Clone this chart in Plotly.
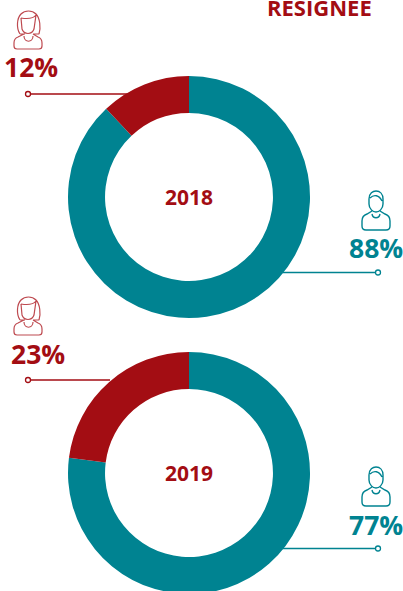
import plotly.graph_objects as go

W, H = 403, 620
years = ["2018", "2019"]
male = [88, 77]
female = [12, 23]
labels = ["Male", "Female"]
title = "RESIGNEE"
TEAL = "#008391"
RED = "#A30D13"
CY = [197, 473]
CX = 189
R = 121
FONT = "Open Sans"

def female_icon(x, y):
    d = []
    # hair
    d.append(f"M{x+6},{y+24} C{x+2},{y+18} {x+3},{y+8} {x+7},{y+4} C{x+11},{y} {x+18},{y} {x+22},{y+4} C{x+26},{y+8} {x+27},{y+18} {x+25},{y+24}")
    d.append(f"M{x+6},{y+24} L{x+11},{y+24} M{x+19},{y+24} L{x+25},{y+24}")
    # face
    d.append(f"M{x+7},{y+8} L{x+8},{y+19} C{x+10},{y+25} {x+18},{y+25} {x+20},{y+19} L{x+22},{y+5} C{x+19},{y+9} {x+13},{y+9} {x+7},{y+8}")
    # body
    d.append(f"M{x+10},{y+24} L{x+4},{y+27} C{x+1},{y+28} {x},{y+30} {x},{y+33} L{x},{y+36} C{x},{y+38} {x+1},{y+39} {x+3},{y+39} L{x+25},{y+39} C{x+27},{y+39} {x+28},{y+38} {x+28},{y+36} L{x+28},{y+33} C{x+28},{y+30} {x+27},{y+28} {x+24},{y+27} L{x+19},{y+24}")
    d.append(f"M{x+10},{y+26} C{x+10},{y+33} {x+19},{y+33} {x+19},{y+26}")
    return " ".join(d)

def male_icon(x, y):
    d = []
    # head
    d.append(f"M{x+7},{y+8} C{x+7},{y+2} {x+11},{y} {x+14},{y} C{x+18},{y} {x+21},{y+3} {x+21},{y+8} L{x+21},{y+13} C{x+21},{y+18} {x+17},{y+21} {x+14},{y+21} C{x+11},{y+21} {x+7},{y+18} {x+7},{y+13} Z")
    d.append(f"M{x+8},{y+7} C{x+12},{y+3} {x+17},{y+4} {x+20},{y+10}")
    # body
    d.append(f"M{x+10},{y+20} L{x+5},{y+23} C{x+2},{y+24} {x},{y+27} {x},{y+30} L{x},{y+35} C{x},{y+38} {x+2},{y+39} {x+4},{y+39} L{x+24},{y+39} C{x+26},{y+39} {x+28},{y+38} {x+28},{y+35} L{x+28},{y+30} C{x+28},{y+27} {x+26},{y+24} {x+23},{y+23} L{x+18},{y+20}")
    d.append(f"M{x+10},{y+23} C{x+11},{y+28} {x+17},{y+28} {x+18},{y+23}")
    return " ".join(d)

fig = go.Figure()
for i, yr in enumerate(years):
    fig.add_trace(go.Pie(
        labels=labels, values=[male[i], female[i]], hole=0.694, sort=False,
        direction="clockwise", rotation=0, textinfo="none", hoverinfo="label+percent",
        marker=dict(colors=[TEAL, RED], line=dict(width=0)), showlegend=False,
        domain=dict(x=[(CX - R) / W, (CX + R) / W],
                    y=[1 - (CY[i] + R) / H, 1 - (CY[i] - R) / H]),
    ))

fig.add_trace(go.Scatter(x=[0, W], y=[0, H], mode="markers", marker=dict(opacity=0),
                         hoverinfo="skip", showlegend=False))

shapes, ann = [], []
def text(x, y, s, size, color, anchor="center"):
    ann.append(dict(x=x, y=y, text=s, showarrow=False, xanchor=anchor, yanchor="middle",
                    font=dict(family=FONT, size=size, color=color, weight=700), xref="x", yref="y"))

text(319.5, 6.5, title, 22, RED)
left_y = [94, 380]
left_end = [135, 110]
right_y = [272.5, 548.5]
fem_y = [10, 296]
mal_y = [191, 467]
pct_fem_x = [31, 38]
pct_fem_y = [66.5, 353.5]
pct_mal_y = [247.5, 524.5]
for i, yr in enumerate(years):
    text(CX, CY[i], yr, 21, RED)
    text(pct_fem_x[i], pct_fem_y[i], f"{female[i]}%", 26.5, RED)
    text(375.5, pct_mal_y[i], f"{male[i]}%", 26.5, TEAL)
    shapes.append(dict(type="line", x0=28, x1=left_end[i], y0=left_y[i], y1=left_y[i],
                       line=dict(color=RED, width=1.3), layer="below"))
    shapes.append(dict(type="circle", x0=25.5, x1=30.5, y0=left_y[i]-2.5, y1=left_y[i]+2.5,
                       line=dict(color=RED, width=1.3), fillcolor="white", layer="below"))
    shapes.append(dict(type="line", x0=270, x1=378, y0=right_y[i], y1=right_y[i],
                       line=dict(color=TEAL, width=1.3), layer="below"))
    shapes.append(dict(type="circle", x0=375.5, x1=380.5, y0=right_y[i]-2.5, y1=right_y[i]+2.5,
                       line=dict(color=TEAL, width=1.3), fillcolor="white", layer="below"))
    shapes.append(dict(type="path", path=female_icon(14, fem_y[i]), line=dict(color="#BE4A50", width=1.2), layer="below"))
    shapes.append(dict(type="path", path=male_icon(362, mal_y[i]), line=dict(color=TEAL, width=1.4), layer="below"))

fig.update_layout(
    width=W, height=H, margin=dict(l=0, r=0, t=0, b=0),
    paper_bgcolor="white", plot_bgcolor="rgba(0,0,0,0)",
    xaxis=dict(range=[0, W], visible=False, fixedrange=True),
    yaxis=dict(range=[H, 0], visible=False, fixedrange=True),
    shapes=shapes, annotations=ann,
)
fig.write_html("out.html", config={"displayModeBar": False},
               post_script="document.body.style.margin='0';document.documentElement.style.overflow='hidden';document.body.style.overflow='hidden';")
